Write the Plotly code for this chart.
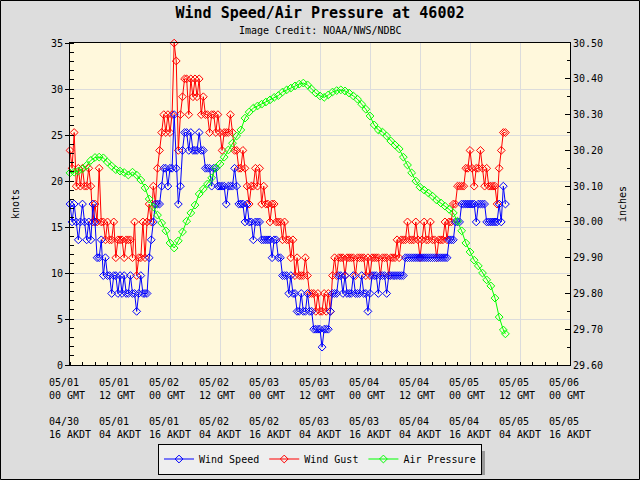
import pandas as pd
import plotly.graph_objects as go

START = "2011-05-01 00:00"
END = "2011-05-06 00:00"
MS_TO_KT = 1.94384

# Wind speed, 30-minute readings, in whole m/s (shown in knots)
speed_ms = [
    9, 8, 9, 8, 7, 8, 9, 8, 7, 8, 7, 9, 8, 6, 6, 7, 5, 6, 5, 5,
    4, 5, 5, 4, 5, 4, 5, 4, 4, 5, 4, 4, 3, 4, 5, 4, 4, 4, 6, 7,
    8, 9, 9, 9, 10, 11, 11, 10, 11, 11, 14, 11, 9, 10, 12, 13, 13, 12, 13, 12,
    12, 12, 13, 12, 12, 11, 11, 11, 10, 11, 11, 10, 10, 10, 10, 9, 10, 10, 10, 11,
    10, 9, 9, 9, 8, 9, 8, 8, 7, 8, 8, 8, 7, 7, 7, 7, 7, 6, 7, 7,
    6, 6, 5, 5, 5, 4, 5, 4, 4, 3, 3, 4, 3, 3, 4, 3, 3, 2, 2, 2,
    2, 1, 2, 2, 2, 3, 4, 4, 4, 5, 5, 4, 5, 4, 4, 4, 5, 4, 4, 4,
    5, 4, 4, 3, 4, 5, 5, 5, 4, 5, 5, 5, 4, 5, 5, 5, 5, 5, 5, 5,
    5, 6, 6, 6, 6, 6, 6, 6, 6, 6, 6, 6, 6, 6, 6, 6, 6, 6, 6, 6,
    6, 6, 7, 7, 7, 8, 8, 8, 9, 9, 9, 9, 9, 9, 9, 8, 9, 9, 9, 9,
    8, 8, 8, 8, 8, 8, 9, 8, 10, 9,
]

# Wind gust, 30-minute readings, in whole m/s (shown in knots)
gust_ms = [
    12, 11, 13, 10, 11, 10, 11, 10, 10, 11, 10, 8, 9, 8, 11, 8, 8, 7, 8, 7,
    7, 8, 6, 7, 7, 7, 6, 7, 7, 7, 6, 8, 5, 6, 6, 8, 6, 8, 9, 8,
    10, 9, 11, 12, 13, 14, 13, 14, 13, 14, 18, 17, 12, 14, 15, 16, 16, 14, 16, 15,
    16, 15, 16, 14, 15, 14, 14, 13, 14, 14, 13, 14, 13, 12, 13, 13, 13, 14, 13, 12,
    12, 11, 11, 12, 11, 10, 9, 10, 10, 11, 10, 11, 9, 10, 9, 9, 8, 9, 9, 8,
    8, 8, 7, 8, 7, 7, 6, 7, 5, 6, 5, 5, 5, 6, 5, 4, 4, 4, 3, 4,
    3, 3, 4, 3, 4, 3, 5, 6, 5, 6, 6, 6, 5, 6, 6, 6, 6, 5, 6, 6,
    6, 6, 5, 6, 5, 6, 6, 6, 6, 5, 6, 6, 6, 5, 6, 6, 6, 7, 6, 7,
    7, 7, 8, 7, 7, 7, 8, 7, 6, 7, 8, 7, 7, 8, 7, 7, 6, 7, 7, 7,
    8, 7, 8, 8, 9, 9, 10, 10, 10, 10, 11, 11, 12, 11, 10, 11, 11, 12, 11, 10,
    11, 10, 10, 10, 10, 9, 11, 12, 13, 13,
]

# Air pressure, hourly readings (inches); hours after 05/01 00 GMT
pressure_hours = list(range(105)) + [104.5]
pressure_in = [
    30.137, 30.139, 30.142, 30.148, 30.158, 30.172, 30.180, 30.181, 30.179, 30.167,
    30.156, 30.146, 30.142, 30.138, 30.131, 30.139, 30.131, 30.117, 30.095, 30.064,
    30.042, 30.019, 29.997, 29.975, 29.941, 29.927, 29.947, 29.972, 30.002, 30.025,
    30.047, 30.078, 30.092, 30.106, 30.123, 30.151, 30.162, 30.181, 30.201, 30.220,
    30.240, 30.257, 30.290, 30.307, 30.318, 30.324, 30.329, 30.335, 30.341, 30.348,
    30.353, 30.363, 30.369, 30.374, 30.380, 30.385, 30.388, 30.383, 30.371, 30.360,
    30.352, 30.348, 30.355, 30.363, 30.367, 30.369, 30.366, 30.360, 30.352, 30.343,
    30.329, 30.315, 30.296, 30.271, 30.257, 30.251, 30.240, 30.226, 30.215, 30.204,
    30.181, 30.159, 30.137, 30.114, 30.097, 30.089, 30.081, 30.072, 30.061, 30.053,
    30.044, 30.035, 30.025, 30.002, 29.975, 29.941, 29.916, 29.893, 29.877, 29.857,
    29.838, 29.821, 29.787, 29.734, 29.698, 29.687,
]

# Tick labels
tick_gmt_date = ["05/01", "05/01", "05/02", "05/02", "05/03", "05/03",
                 "05/04", "05/04", "05/05", "05/05", "05/06"]
tick_gmt_hour = ["00 GMT", "12 GMT", "00 GMT", "12 GMT", "00 GMT", "12 GMT",
                 "00 GMT", "12 GMT", "00 GMT", "12 GMT", "00 GMT"]
tick_akdt_date = ["04/30", "05/01", "05/01", "05/02", "05/02", "05/03",
                  "05/03", "05/04", "05/04", "05/05", "05/05"]
tick_akdt_hour = ["16 AKDT", "04 AKDT", "16 AKDT", "04 AKDT", "16 AKDT", "04 AKDT",
                  "16 AKDT", "04 AKDT", "16 AKDT", "04 AKDT", "16 AKDT"]

wind_times = pd.date_range(START, periods=len(speed_ms), freq="30min")
pressure_times = [pd.Timestamp(START) + pd.Timedelta(hours=h) for h in pressure_hours]
tick_times = pd.date_range(START, END, freq="12h")


def pad(s, n=7):
    return s + "\u00a0" * (n - len(s))


tick_text = [
    "<br>".join([pad(a), pad(b), "\u00a0", pad(c), pad(d)])
    for a, b, c, d in zip(tick_gmt_date, tick_gmt_hour, tick_akdt_date, tick_akdt_hour)
]

FONT = "DejaVu Sans Mono"


def marker(color):
    return dict(symbol="diamond-open", size=6, color=color, line=dict(width=1, color=color))


fig = go.Figure()
fig.add_trace(go.Scatter(
    x=wind_times, y=[v * MS_TO_KT for v in gust_ms], name="Wind Gust",
    mode="lines+markers", line=dict(color="#FF0000", width=1), marker=marker("#FF0000"),
    legendrank=2, cliponaxis=False))
fig.add_trace(go.Scatter(
    x=wind_times, y=[v * MS_TO_KT for v in speed_ms], name="Wind Speed",
    mode="lines+markers", line=dict(color="#0000FF", width=1), marker=marker("#0000FF"),
    legendrank=1, cliponaxis=False))
fig.add_trace(go.Scatter(
    x=pressure_times, y=pressure_in, name="Air Pressure", yaxis="y2",
    mode="lines+markers", line=dict(color="#00FF00", width=1), marker=marker("#00FF00"),
    legendrank=3, cliponaxis=False))

L, R, T, B = 70, 70, 43, 115
W, H = 640, 480
PW, PH = W - L - R, H - T - B

fig.update_layout(
    width=W, height=H, autosize=False,
    margin=dict(l=L, r=R, t=T, b=B, pad=0),
    paper_bgcolor="#DDDDDD", plot_bgcolor="#FFF8DC",
    font=dict(family=FONT, size=10, color="black"),
    title=dict(text="Wind Speed/Air Pressure at 46002", x=0.5, xanchor="center",
               y=1 - 12.5 / H, yanchor="middle",
               font=dict(family=FONT, size=15, color="black", weight="bold")),
    showlegend=True,
    legend=dict(orientation="h", xref="paper", x=0.5, xanchor="center",
                yref="container", y=1 - 459 / H, yanchor="middle",
                bgcolor="#EEEEEE", bordercolor="black", borderwidth=1,
                font=dict(family=FONT, size=10), itemwidth=30),
    xaxis=dict(type="date", range=[START, END], tickmode="array", tickvals=tick_times,
               ticktext=tick_text, tickangle=0, showgrid=True, gridcolor="#DCDCDC", gridwidth=1,
               showline=True, linecolor="black", linewidth=1, mirror=True, automargin=False,
               ticks="", ticklabelstandoff=8, zeroline=False,
               minor=dict(dtick=3 * 3600 * 1000, tick0=START, ticks="inside", ticklen=3,
                          tickcolor="black", showgrid=False)),
    yaxis=dict(range=[0, 35], tick0=0, dtick=5, showgrid=True, gridcolor="#DCDCDC", gridwidth=1,
               showline=True, linecolor="black", linewidth=1, zeroline=False, automargin=False,
               ticks="outside", ticklen=4, tickcolor="black",
               minor=dict(dtick=1, ticks="inside", ticklen=4, tickcolor="black", showgrid=False),
               title=dict(text="knots", standoff=29, font=dict(family=FONT, size=10))),
    yaxis2=dict(overlaying="y", side="right", range=[29.6, 30.5], tick0=29.6, dtick=0.1,
                tickformat=".2f", showgrid=False, showline=True, linecolor="black", linewidth=1,
                zeroline=False, automargin=False, ticks="inside", ticklen=5, tickcolor="black",
                minor=dict(dtick=0.05, ticks="inside", ticklen=3, tickcolor="black"),
                title=dict(text="inches", standoff=16, font=dict(family=FONT, size=10))),
)

fig.add_annotation(text="Image Credit: NOAA/NWS/NDBC", xref="paper", yref="paper",
                   x=0.5, xanchor="center", y=1 + (T - 31) / PH, yanchor="middle",
                   showarrow=False, font=dict(family=FONT, size=10, color="black"))

# legend drop shadow and outer frame
fig.add_shape(type="rect", xref="paper", yref="paper", layer="below",
              x0=(163 - L) / PW, x1=(485 - L) / PW,
              y0=(T + PH - 475) / PH, y1=(T + PH - 451) / PH,
              fillcolor="#999999", line=dict(width=0))
fig.add_shape(type="rect", xref="paper", yref="paper", layer="above",
              x0=(0.5 - L) / PW, x1=(W - 0.5 - L) / PW,
              y0=(T + PH - (H - 0.5)) / PH, y1=(T + PH - 0.5) / PH,
              line=dict(color="black", width=1))

fig.write_html("out.html",
               config={"displayModeBar": False},
               post_script="document.body.style.margin='0px';document.body.style.overflow='hidden';")
